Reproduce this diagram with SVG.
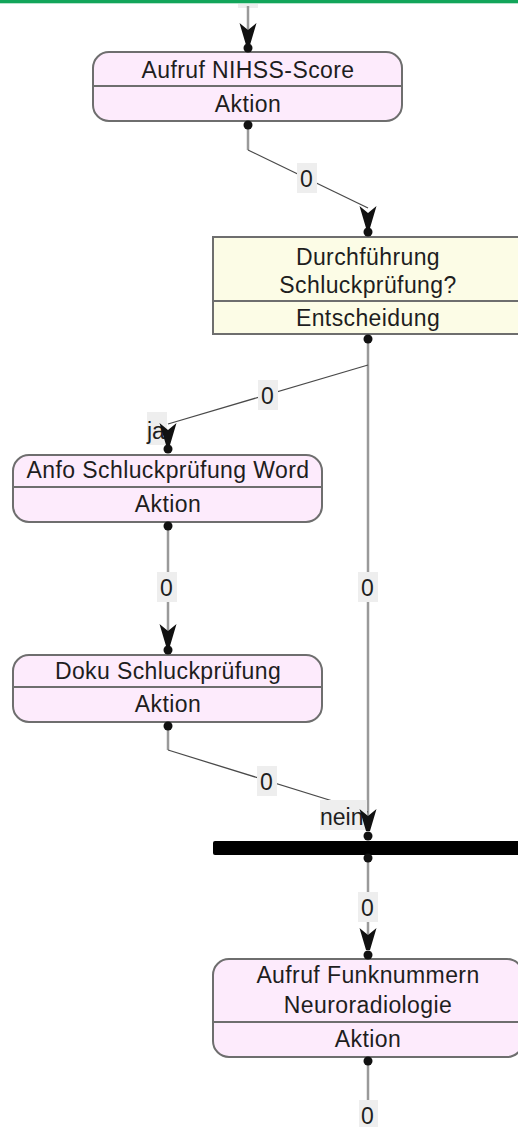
<svg xmlns="http://www.w3.org/2000/svg" width="518" height="1127" viewBox="0 0 518 1127">
  <style>
    .act { fill: #fdebfc; stroke: #6e6e6e; stroke-width: 2; }
    .dec { fill: #fcfce6; stroke: #6e6e6e; stroke-width: 2; }
    .div { stroke: #6e6e6e; stroke-width: 2; }
    .t { font-family: "Liberation Sans", Arial, sans-serif; font-size: 23px; fill: #1e1e1e; text-anchor: middle; letter-spacing: 0.4px; }
    .lbl { font-family: "Liberation Sans", Arial, sans-serif; font-size: 23px; fill: #1e1e1e; }
    .lbg { fill: #eeeeee; }
    .v { stroke: #9a9a9a; stroke-width: 2.5; fill: none; }
    .d { stroke: #4a4a4a; stroke-width: 1.3; fill: none; }
    .dot { fill: #111; }
  </style>
  <defs>
    <!-- arrowhead with tip at origin, pointing down -->
    <path id="ah" d="M -8.5 -22 L 0 -15 L 8.5 -22 L 2 0 L -2 0 Z" fill="#111"/>
  </defs>

  <rect x="0" y="0" width="518" height="3.3" fill="#12a55a"/>

  <g id="n-nihss">
    <rect class="act" x="93" y="52" width="309" height="69" rx="16"/>
    <line class="div" x1="93" y1="86" x2="402" y2="86"/>
    <text class="t" x="248" y="78">Aufruf NIHSS-Score</text>
    <text class="t" x="248" y="112">Aktion</text>
  </g>

  <g id="n-decision">
    <rect class="dec" x="213" y="237" width="312" height="97"/>
    <line class="div" x1="213" y1="301" x2="525" y2="301"/>
    <text class="t" x="368" y="265">Durchführung</text>
    <text class="t" x="368" y="293">Schluckprüfung?</text>
    <text class="t" x="368" y="326">Entscheidung</text>
  </g>

  <g id="n-anfo">
    <rect class="act" x="13" y="455" width="309" height="67" rx="16"/>
    <line class="div" x1="13" y1="487" x2="322" y2="487"/>
    <text class="t" x="168" y="478">Anfo Schluckprüfung Word</text>
    <text class="t" x="168" y="512">Aktion</text>
  </g>

  <g id="n-doku">
    <rect class="act" x="13" y="655" width="309" height="67" rx="16"/>
    <line class="div" x1="13" y1="687" x2="322" y2="687"/>
    <text class="t" x="168" y="679">Doku Schluckprüfung</text>
    <text class="t" x="168" y="712">Aktion</text>
  </g>

  <g id="n-join">
    <rect x="213" y="841" width="312" height="14" rx="2" fill="#000"/>
  </g>

  <g id="n-funk">
    <rect class="act" x="213" y="959" width="310" height="98" rx="16"/>
    <line class="div" x1="213" y1="1022" x2="523" y2="1022"/>
    <text class="t" x="368" y="983">Aufruf Funknummern</text>
    <text class="t" x="368" y="1013">Neuroradiologie</text>
    <text class="t" x="368" y="1047">Aktion</text>
  </g>

  <g id="connectors">
    <!-- incoming from above -->
    <rect class="lbg" x="238" y="4" width="20" height="4"/>
    <line class="v" x1="248" y1="6" x2="248" y2="40"/>
    <use href="#ah" x="248" y="45"/>
    <circle class="dot" cx="248" cy="48" r="4.5"/>

    <!-- NIHSS -> decision -->
    <polyline class="v" points="248,125 248,150"/>
    <circle class="dot" cx="248" cy="125" r="4.5"/>
    <line class="d" x1="248" y1="150" x2="368" y2="208"/>
    <use href="#ah" x="368" y="228"/>
    <circle class="dot" cx="368" cy="232" r="4.5"/>
    <rect class="lbg" x="297" y="163" width="20" height="30"/>
    <text class="lbl" x="300" y="187">0</text>

    <!-- decision -> join bar (nein) -->
    <line class="v" x1="368" y1="339" x2="368" y2="826"/>
    <rect class="lbg" x="358" y="572" width="20" height="30"/>
    <text class="lbl" x="361" y="596">0</text>

    <!-- decision -> Anfo (ja) -->
    <circle class="dot" cx="368" cy="339" r="4.5"/>
    <line class="d" x1="368" y1="365" x2="168" y2="424"/>
    <rect class="lbg" x="258" y="380" width="20" height="30"/>
    <text class="lbl" x="261" y="404">0</text>
    <rect class="lbg" x="147" y="412" width="20" height="33"/>
    <text class="lbl" x="147" y="439">ja</text>
    <use href="#ah" x="168" y="445"/>
    <circle class="dot" cx="168" cy="449" r="4.5"/>

    <!-- Anfo -> Doku -->
    <line class="v" x1="168" y1="526" x2="168" y2="640"/>
    <circle class="dot" cx="168" cy="526" r="4.5"/>
    <rect class="lbg" x="157" y="572" width="20" height="30"/>
    <text class="lbl" x="160" y="596">0</text>
    <use href="#ah" x="168" y="646"/>
    <circle class="dot" cx="168" cy="650" r="4.5"/>

    <!-- Doku -> join bar -->
    <polyline class="v" points="168,726 168,750"/>
    <circle class="dot" cx="168" cy="726" r="4.5"/>
    <line class="d" x1="168" y1="750" x2="368" y2="812"/>
    <rect class="lbg" x="257" y="766" width="20" height="30"/>
    <text class="lbl" x="260" y="790">0</text>
    <rect class="lbg" x="320" y="800" width="47" height="30"/>
    <text class="lbl" x="320" y="825">nein</text>
    <use href="#ah" x="368" y="831"/>
    <circle class="dot" cx="368" cy="836" r="4.5"/>

    <!-- join bar -> Funknummern -->
    <line class="v" x1="368" y1="858" x2="368" y2="944"/>
    <circle class="dot" cx="368" cy="858" r="4.5"/>
    <rect class="lbg" x="358" y="892" width="20" height="30"/>
    <text class="lbl" x="361" y="916">0</text>
    <use href="#ah" x="368" y="950"/>
    <circle class="dot" cx="368" cy="955" r="4.5"/>

    <!-- Funknummern -> onward -->
    <line class="v" x1="368" y1="1061" x2="368" y2="1127"/>
    <circle class="dot" cx="368" cy="1061" r="4.5"/>
    <rect class="lbg" x="359" y="1100" width="19" height="27"/>
    <text class="lbl" x="361" y="1124">0</text>
  </g>
</svg>
